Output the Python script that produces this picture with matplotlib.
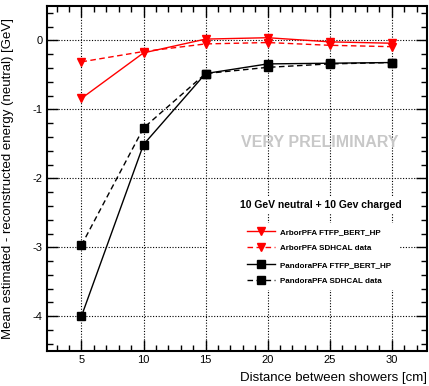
import matplotlib
matplotlib.use("Agg")
import matplotlib.pyplot as plt
from matplotlib.lines import Line2D
from matplotlib.patches import Rectangle
from matplotlib.ticker import MultipleLocator

plt.rcParams['font.family'] = ['Liberation Sans', 'DejaVu Sans']

distance = [5, 10, 15, 20, 25, 30]
arbor_sim = [-0.84, -0.18, 0.02, 0.04, -0.02, -0.04]
arbor_data = [-0.31, -0.16, -0.05, -0.03, -0.07, -0.09]
pandora_sim = [-4.0, -1.51, -0.48, -0.34, -0.33, -0.32]
pandora_data = [-2.97, -1.27, -0.48, -0.39, -0.34, -0.32]

labels = ["ArborPFA FTFP_BERT_HP", "ArborPFA SDHCAL data",
          "PandoraPFA FTFP_BERT_HP", "PandoraPFA SDHCAL data"]

W, H = 429, 386
fig = plt.figure(figsize=(W / 100, H / 100), dpi=100)
x0, x1, yt, yb = 46.7, 426.5, 6, 350.7
ax = fig.add_axes([x0 / W, 1 - yb / H, (x1 - x0) / W, (yb - yt) / H])

ax.set_xlim(2.2, 32.8)
ax.set_ylim(-4.5, 0.5)

dash = (0, (4, 2.5))
ms_t, ms_s = 6, 6
ax.plot(distance, arbor_sim, color='red', lw=1.0, ls='-', marker='v', ms=ms_t, zorder=5)
ax.plot(distance, arbor_data, color='red', lw=1.0, ls=dash, marker='v', ms=ms_t, zorder=5)
ax.plot(distance, pandora_sim, color='black', lw=1.0, ls='-', marker='s', ms=ms_s, zorder=5)
ax.plot(distance, pandora_data, color='black', lw=1.0, ls=dash, marker='s', ms=ms_s, zorder=5)

ax.xaxis.set_major_locator(MultipleLocator(5))
ax.xaxis.set_minor_locator(MultipleLocator(1))
ax.yaxis.set_major_locator(MultipleLocator(1))
ax.yaxis.set_minor_locator(MultipleLocator(0.2))
ax.tick_params(which='both', direction='in', top=True, right=True, labelsize=8, width=1.0)
ax.tick_params(which='major', length=8, pad=3)
ax.tick_params(which='minor', length=4)
ax.set_yticks([-4, -3, -2, -1, 0])
ax.set_yticklabels(['-4', '-3', '-2', '-1', '0'])
ax.grid(True, which='major', color='black', ls=(0, (1, 1.5)), lw=0.8)
ax.set_axisbelow(True)
for s in ax.spines.values():
    s.set_linewidth(1.5)

ax.set_ylabel("Mean estimated - reconstructed energy (neutral) [GeV]", fontsize=9.5)
ax.yaxis.set_label_coords(-0.085, 0.5)
fig.text(x1 / W + 0.002, 1 - 378 / H, "Distance between showers [cm]", ha='right', va='center', fontsize=9.5)

ax.text(0.72, 0.603, "VERY PRELIMINARY", transform=ax.transAxes, ha='center', va='center',
        fontsize=11.5, fontweight='bold', color='#c8c8c8', zorder=3)

ax.add_patch(Rectangle((0.503, 0.399), 0.44, 0.047, transform=ax.transAxes,
                       facecolor='white', edgecolor='none', zorder=2))
ax.add_patch(Rectangle((0.421, 0.176), 0.507, 0.194, transform=ax.transAxes,
                       facecolor='white', edgecolor='none', zorder=2))
ax.text(0.723, 0.422, "10 GeV neutral + 10 Gev charged", transform=ax.transAxes,
        ha='center', va='center', fontsize=7.5, fontweight='bold', zorder=4)

handles = [
    Line2D([], [], color='red', lw=1.0, ls='-', marker='v', ms=ms_t),
    Line2D([], [], color='red', lw=1.0, ls=dash, marker='v', ms=ms_t),
    Line2D([], [], color='black', lw=1.0, ls='-', marker='s', ms=ms_s),
    Line2D([], [], color='black', lw=1.0, ls=dash, marker='s', ms=ms_s),
]
leg = ax.legend(handles, labels, loc='upper left', bbox_to_anchor=(0.528, 0.356),
                frameon=False, prop={'size': 5.8, 'weight': 'bold'}, handlelength=3.5,
                handletextpad=0.6, labelspacing=1.1, borderpad=0, borderaxespad=0)
leg.set_zorder(6)

fig.savefig("out.png", dpi=100)
